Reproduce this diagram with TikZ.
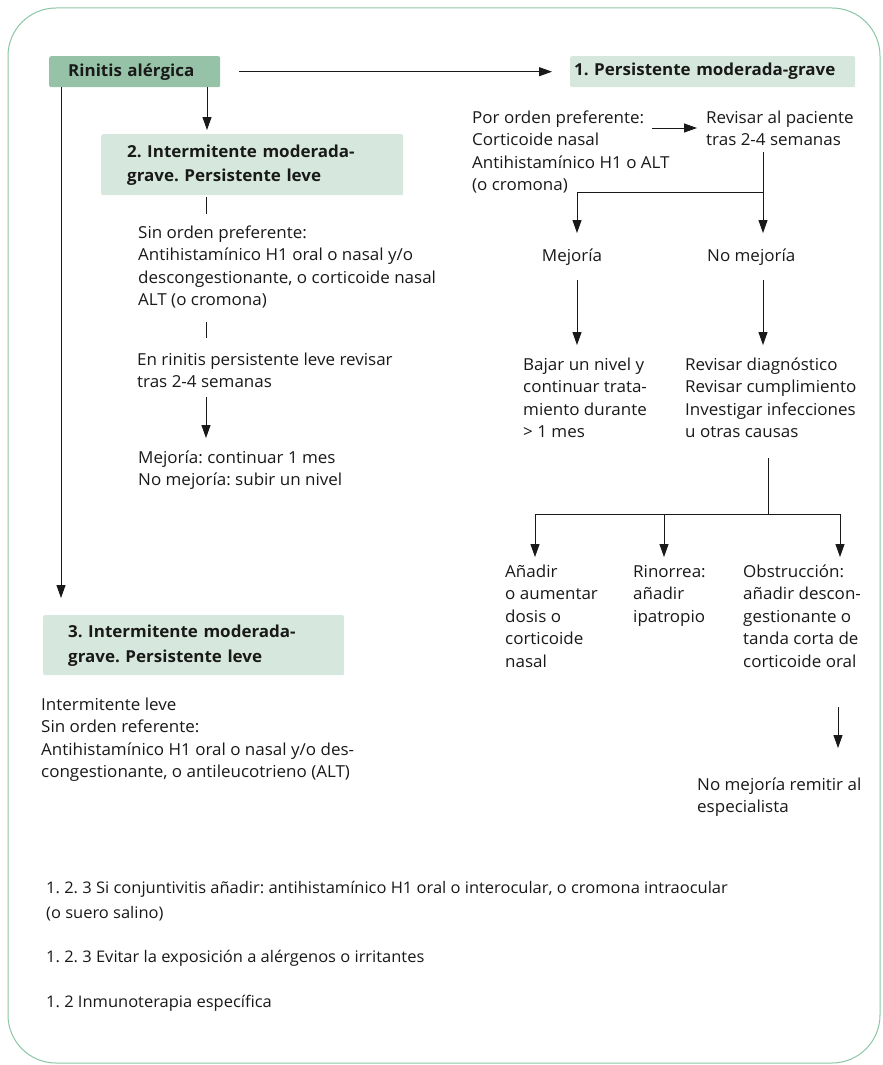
\documentclass[tikz,border=0pt]{standalone}
\usepackage{fontspec}
\setmainfont{Open Sans}[FakeStretch=1.03]
\newfontfamily\hdrfont{Open Sans}[FakeStretch=1.03]
\usetikzlibrary{arrows.meta}
\definecolor{framecol}{RGB}{140,198,166}
\definecolor{darkbox}{RGB}{150,195,168}
\definecolor{lightbox}{RGB}{214,232,221}
\definecolor{ink}{RGB}{25,25,25}
\newcommand{\ml}[1]{\begin{tabular}[t]{@{}l@{}}#1\end{tabular}}
\tikzset{
  txt/.style={anchor=base west, inner sep=0pt, text=ink, font=\fontsize{16.5}{22.5}\selectfont},
  btxt/.style={anchor=base west, inner sep=0pt, text=ink, font=\fontsize{16}{25}\selectfont},
  hdr/.style={anchor=north west, inner sep=0pt, align=left, rounded corners=2pt, text=ink,
     font=\hdrfont\fontsize{16.5}{24.5}\selectfont\bfseries},
  arr/.style={draw=ink, line width=0.9pt, -{Triangle[length=13pt,width=9pt]}},
  ln/.style={draw=ink, line width=0.9pt},
}
\begin{document}
\frenchspacing
\begin{tikzpicture}[x=1pt,y=-1pt]
\useasboundingbox (0,0) rectangle (883,1065);
\fill[white] (0,0) rectangle (883,1065);
\draw[framecol, line width=1pt, rounded corners=48pt] (8,8) rectangle (880,1063);

% header boxes
\node[hdr, fill=darkbox, minimum width=171pt, minimum height=31pt, text width=171pt] (rin) at (49,56)
  {\hspace*{19pt}Rinitis alérgica};
\node[hdr, fill=lightbox, minimum width=285pt, minimum height=31pt, text width=285pt] (b1) at (570,56)
  {\hspace*{4pt}1. Persistente moderada-grave};
\node[hdr, fill=lightbox, minimum width=302pt, minimum height=61pt, text width=302pt] (b2) at (101,134)
  {\hspace*{26pt}\ml{2. Intermitente moderada-\\grave. Persistente leve}};
\node[hdr, fill=lightbox, minimum width=301pt, minimum height=60pt, text width=301pt] (b3) at (43,615)
  {\hspace*{25pt}\ml{3. Intermitente moderada-\\grave. Persistente leve}};

% left column texts
\node[txt] (t2a) at (138,238) {\ml{Sin orden preferente:\\Antihistamínico H1 oral o nasal y/o\\descongestionante, o corticoide nasal\\ALT (o cromona)}};
\node[txt] (t2b) at (137,365) {\ml{En rinitis persistente leve revisar\\tras 2-4 semanas}};
\node[txt] (t2c) at (138,463) {\ml{Mejoría: continuar 1 mes\\No mejoría: subir un nivel}};
\node[txt] (t3) at (41,710) {\ml{Intermitente leve\\Sin orden referente:\\Antihistamínico H1 oral o nasal y/o des-\\congestionante, o antileucotrieno (ALT)}};

% right column texts
\node[txt] (t1a) at (472,123) {\ml{Por orden preferente:\\Corticoide nasal\\Antihistamínico H1 o ALT\\(o cromona)}};
\node[txt] (t1b) at (706,123) {\ml{Revisar al paciente\\tras 2-4 semanas}};
\node[txt, anchor=base] (mej) at (572,261) {\ml{Mejoría}};
\node[txt] (nomej) at (707,261) {\ml{No mejoría}};
\node[txt] (bajar) at (523,370) {\ml{Bajar un nivel y\\continuar trata-\\miento durante\\> 1 mes}};
\node[txt] (revd) at (685,370) {\ml{Revisar diagnóstico\\Revisar cumplimiento\\Investigar infecciones\\u otras causas}};
\node[txt] (anad) at (505,577) {\ml{Añadir\\o aumentar\\dosis o\\corticoide\\nasal}};
\node[txt] (rino) at (633,577) {\ml{Rinorrea:\\añadir\\ipatropio}};
\node[txt] (obst) at (743,577) {\ml{Obstrucción:\\añadir descon-\\gestionante o\\tanda corta de\\corticoide oral}};
\node[txt] (remit) at (697,790) {\ml{No mejoría remitir al\\especialista}};

% bottom notes
\node[btxt] (n1) at (46,893) {\ml{1. 2. 3 Si conjuntivitis añadir: antihistamínico H1 oral o interocular, o cromona intraocular\\(o suero salino)}};
\node[btxt] (n2) at (46,962) {1. 2. 3 Evitar la exposición a alérgenos o irritantes};
\node[btxt] (n3) at (46,1007) {1. 2 Inmunoterapia específica};

% helper coordinates for connector columns
\coordinate (x207) at (207,0);
\coordinate (x61) at (61,0);
\coordinate (x206) at (206,0);
\coordinate (a1s) at (652,128);
\coordinate (x763) at (763,0);
\coordinate (x577) at (577,0);
\coordinate (y192) at (0,192);
\coordinate (x768) at (768,0);
\coordinate (y514) at (0,514);
\coordinate (x535) at (535,0);
\coordinate (x664) at (664,0);
\coordinate (x840) at (840,0);
\coordinate (x838) at (838,0);

% connectors
\draw[arr, shorten <=19pt, shorten >=18pt] (rin.east) -- (rin.east -| b1.west);
\draw[arr, shorten >=4pt] (rin.south -| x207) -- (b2.north -| x207);
\draw[arr, shorten >=17pt] (rin.south -| x61) -- (b3.north -| x61);
\draw[ln, shorten <=2pt, shorten >=8pt] (b2.south -| x206) -- (t2a.north -| x206);
\draw[ln, shorten <=10pt, shorten >=11pt] (t2a.south -| x206) -- (t2b.north -| x206);
\draw[arr, shorten <=3pt, shorten >=9pt] (t2b.south -| x206) -- (t2c.north -| x206);
\draw[arr, shorten >=9pt] (a1s) -- (a1s -| t1b.west);
\draw[arr, shorten >=12pt] (t1b.south -| x763) -- (nomej.north -| x763);
\draw[arr, shorten >=12pt] (x763 |- y192) -- (x577 |- y192) -- (mej.north -| x577);
\draw[arr, shorten <=12pt, shorten >=9pt] (mej.south -| x577) -- (bajar.north -| x577);
\draw[arr, shorten <=12pt, shorten >=9pt] (nomej.south -| x763) -- (revd.north -| x763);
\draw[ln, shorten <=14pt] (revd.south -| x768) -- (x768 |- y514);
\draw[ln] (x535 |- y514) -- (x840 |- y514);
\draw[arr, shorten >=4pt] (x535 |- y514) -- (anad.north -| x535);
\draw[arr, shorten >=4pt] (x664 |- y514) -- (rino.north -| x664);
\draw[arr, shorten >=4pt] (x840 |- y514) -- (obst.north -| x840);
\draw[arr, shorten <=33pt, shorten >=26pt] (obst.south -| x838) -- (remit.north -| x838);
\end{tikzpicture}
\end{document}
